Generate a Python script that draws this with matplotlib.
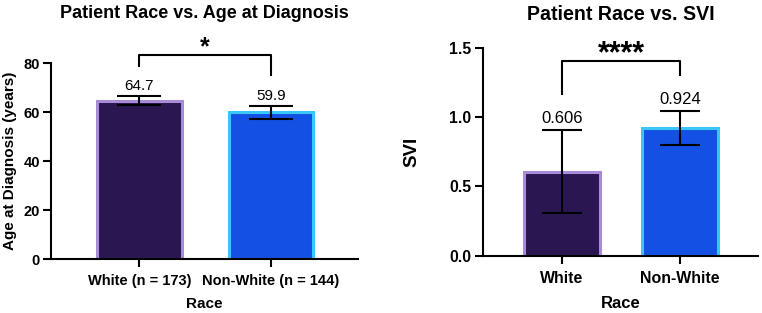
import matplotlib
matplotlib.use('Agg')
import matplotlib.pyplot as plt
from matplotlib.ticker import FormatStrFormatter

plt.rcParams['font.family'] = ['Liberation Sans', 'DejaVu Sans']

# ── Dados ─────────────────────────────────────────────────────────────────────
grupos_idade = ['White (n = 173)', 'Non-White (n = 144)']
idade_media = [64.7, 59.9]
idade_erro = [1.95, 2.7]

grupos_svi = ['White', 'Non-White']
svi_media = [0.606, 0.924]
svi_erro = [0.30, 0.122]

cores_fill = ['#2a1752', '#1350e3']
cores_borda = ['#a88cd8', '#38c6fb']

fig = plt.figure(figsize=(7.62, 3.13), dpi=100)
ax1 = fig.add_axes([0.0669, 0.1725, 0.403, 0.626])
ax2 = fig.add_axes([0.6335, 0.183, 0.361, 0.6645])


def painel(ax, grupos, medias, erros, ylim, yticks, rotulos, ylabel, titulo,
           xlim, largura, bracket, estrelas, estrela_y, offs, titulo_x, titulo_y,
           esc, capsize, tam_estrela, pad_x, pad_race):
    x = range(len(grupos))
    ax.bar(x, medias, width=largura, color=cores_fill, edgecolor=cores_borda,
           linewidth=2.2, zorder=2)
    ax.errorbar(x, medias, yerr=erros, fmt='none', ecolor='black',
                elinewidth=1.5, capsize=capsize, capthick=1.5, zorder=3)
    for xi, m, e, o in zip(x, medias, erros, offs):
        ax.text(xi, m + e + o, rotulos[xi], ha='center', va='bottom',
                fontsize=11 * esc)
    topo, y_esq, y_dir = bracket
    ax.plot([0, 0, 1, 1], [y_esq, topo, topo, y_dir], color='black', lw=1.5,
            clip_on=False)
    ax.text(0.5, estrela_y, estrelas, ha='center', va='center',
            fontsize=tam_estrela, fontweight='bold')
    ax.set_xlim(*xlim)
    ax.set_ylim(*ylim)
    ax.set_yticks(yticks)
    ax.set_xticks(list(x))
    ax.set_xticklabels(grupos, fontweight='bold', fontsize=10.5 * esc)
    for lb in ax.get_yticklabels():
        lb.set_fontweight('bold')
        lb.set_fontsize(10.5 * esc)
    ax.set_xlabel('Race', fontweight='bold', fontsize=11 * esc, labelpad=pad_race)
    ax.set_ylabel(ylabel, fontweight='bold', fontsize=11 * esc)
    ax.spines['top'].set_visible(False)
    ax.spines['right'].set_visible(False)
    ax.spines['left'].set_linewidth(1.5)
    ax.spines['bottom'].set_linewidth(1.5)
    ax.tick_params(width=1.5, length=6, pad=2)
    ax.tick_params(axis='x', pad=pad_x)
    fig.text(titulo_x, titulo_y, titulo, ha='center', va='center',
             fontweight='bold', fontsize=13 * esc)


painel(ax1, grupos_idade, idade_media, idade_erro, (0, 80), [0, 20, 40, 60, 80],
       {0: '64.7', 1: '59.9'}, 'Age at Diagnosis (years)',
       'Patient Race vs. Age at Diagnosis', (-0.673, 1.662), 0.64,
       (83.3, 78.8, 75.1), '*', 86.5, [1.0, 1.0], 204 / 762, 1 - 13 / 313,
       1.0, 16, 18, 5, 6)

painel(ax2, grupos_svi, svi_media, svi_erro, (0, 1.5), [0.0, 0.5, 1.0, 1.5],
       {0: '0.606', 1: '0.924'}, 'SVI',
       'Patient Race vs. SVI', (-0.672, 1.658), 0.64,
       (1.404, 1.166, 1.303), '****', 1.455, [0.03, 0.03], 621 / 762, 1 - 14 / 313,
       1.09, 14.5, 22, 5, 7)

ax2.yaxis.set_major_formatter(FormatStrFormatter('%.1f'))
for lb in ax2.get_yticklabels():
    lb.set_fontweight('bold')
    lb.set_fontsize(10.5 * 1.09)
ax2.yaxis.label.set_fontsize(13.5)
ax1.yaxis.set_label_coords(-0.11, 0.5)
ax2.yaxis.set_label_coords(-0.228, 0.5)

fig.savefig('out.png', dpi=100)
